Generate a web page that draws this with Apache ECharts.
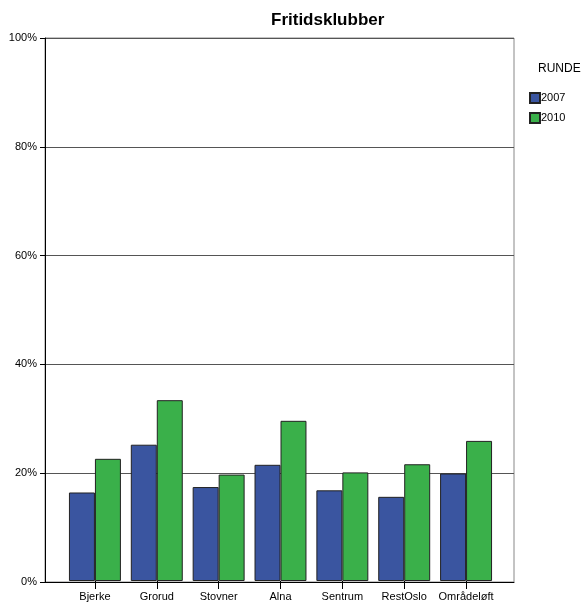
<!DOCTYPE html>
<html><head><meta charset="utf-8">
<script src="https://cdn.jsdelivr.net/npm/echarts@6/dist/echarts.min.js"></script>
<style>html,body{margin:0;padding:0;background:#fff}#c{width:587px;height:602px}</style>
</head><body><div id="c"></div>
<script>
var categories = ['Bjerke','Grorud','Stovner','Alna','Sentrum','RestOslo','Områdeløft'];
var values2007 = [16.3, 25.1, 17.3, 21.4, 16.7, 15.5, 19.8];
var values2010 = [22.5, 33.3, 19.6, 29.5, 20.0, 21.5, 25.8];
var yTicks = [0, 20, 40, 60, 80, 100];
var chart = echarts.init(document.getElementById('c'));
var font = 'Liberation Sans, Arial, sans-serif';
chart.setOption({
  animation: false,
  title: {text: 'Fritidsklubber', left: 266, top: 7,
    textStyle: {fontFamily: font, fontSize: 17, fontWeight: 'bold', color: '#000'}},
  graphic: [{type: 'text', left: 538, top: 63, style: {text: 'RUNDE', font: '12px ' + font, fill: '#000'}}],
  legend: {orient: 'vertical', left: 524, top: 87, itemWidth: 10, itemHeight: 10, itemGap: 8,
    icon: 'rect', textStyle: {fontFamily: font, fontSize: 11, color: '#000', padding: [0,0,0,-4]},
    data: ['2007','2010']},
  grid: [
    {left: 45, right: 73, top: 38, bottom: 20, show: true, borderColor: '#888', borderWidth: 1},
    {left: 64, right: 90, top: 38, bottom: 20}
  ],
  xAxis: [
    {type: 'value', gridIndex: 0, min: 0, max: 1, axisLine: {show: true, onZero: false, lineStyle: {color: '#000'}},
      axisTick: {show: false}, axisLabel: {show: false}, splitLine: {show: false}},
    {type: 'category', gridIndex: 1, data: categories,
      axisLine: {show: true, lineStyle: {color: 'rgba(0,0,0,0)'}},
      axisTick: {show: true, alignWithLabel: true, length: 8, lineStyle: {color: '#000'}},
      axisLabel: {interval: 0, fontFamily: font, fontSize: 11, color: '#000', margin: 10}}
  ],
  yAxis: [
    {type: 'value', gridIndex: 0, min: 0, max: 100, interval: 20,
      axisLine: {show: true, lineStyle: {color: '#000'}},
      axisTick: {show: true, length: 5, lineStyle: {color: '#000'}},
      axisLabel: {fontFamily: font, fontSize: 11, color: '#000', margin: 8, formatter: '{value}%'},
      splitLine: {lineStyle: {color: '#555'}}},
    {type: 'value', gridIndex: 1, min: 0, max: 100, interval: 20, show: false, splitLine: {show: false}}
  ],
  series: [
    {name: '2007', type: 'bar', xAxisIndex: 1, yAxisIndex: 1, data: values2007, barGap: '0%', barCategoryGap: '16%',
      itemStyle: {color: '#3a55a0', borderColor: '#222', borderWidth: 1}},
    {name: '2010', type: 'bar', xAxisIndex: 1, yAxisIndex: 1, data: values2010,
      itemStyle: {color: '#3ab04a', borderColor: '#222', borderWidth: 1}}
  ]
});
</script></body></html>
